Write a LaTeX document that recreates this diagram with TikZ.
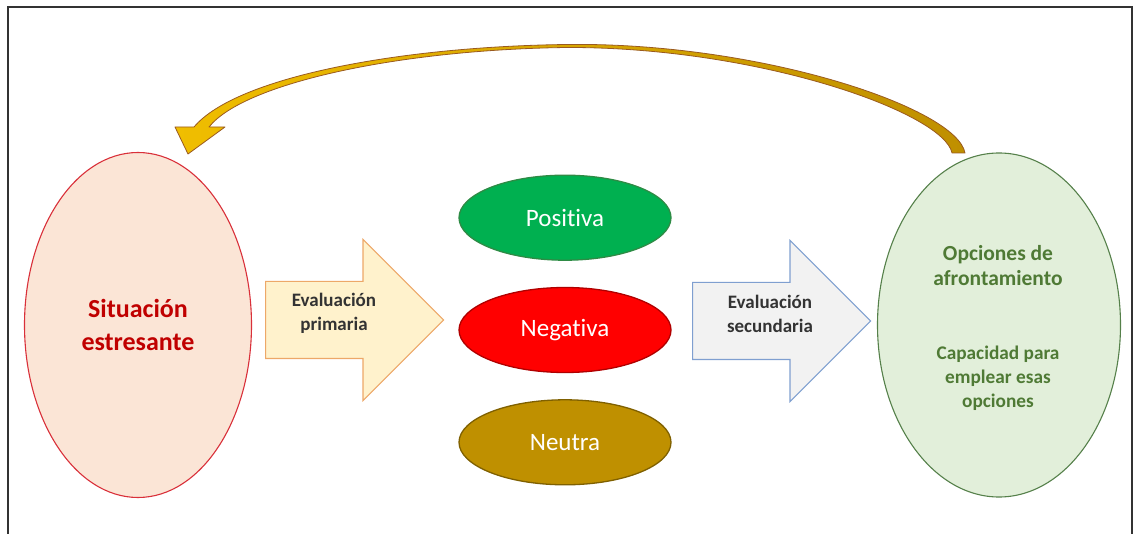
\documentclass[tikz,border=0pt]{standalone}
\usepackage{fontspec}
\setmainfont{Carlito}[Ligatures=NoCommon]
\usepackage{xcolor}
\usetikzlibrary{shapes.geometric, shapes.arrows, positioning}

\definecolor{sitfill}{HTML}{FBE5D6}
\definecolor{sitline}{HTML}{D9303A}
\definecolor{sittext}{HTML}{C00000}
\definecolor{optfill}{HTML}{E2EFDA}
\definecolor{optline}{HTML}{55804A}
\definecolor{opttext}{HTML}{4F7A35}
\definecolor{posfill}{HTML}{00B050}
\definecolor{posline}{HTML}{2E8B45}
\definecolor{negfill}{HTML}{FF0000}
\definecolor{negline}{HTML}{B00000}
\definecolor{neufill}{HTML}{BF9000}
\definecolor{neuline}{HTML}{7F6000}
\definecolor{primfill}{HTML}{FFF2CC}
\definecolor{primline}{HTML}{EDA868}
\definecolor{secfill}{HTML}{F2F2F2}
\definecolor{secline}{HTML}{7F9FD0}
\definecolor{loopgold}{HTML}{F0BE00}
\definecolor{loopdark}{HTML}{BF8F00}
\definecolor{loopline}{HTML}{9A5A20}

\begin{document}
\begin{tikzpicture}[
    x=1pt, y=-1pt,
    node distance=26pt,
    oval/.style={ellipse, draw, line width=1.1pt, inner sep=0pt, align=center},
    mood/.style={ellipse, draw, line width=1.3pt, minimum width=212pt, minimum height=85pt, inner sep=0pt, text=white, font=\fontsize{25}{30}\selectfont},
    bigarrow/.style={single arrow, draw, line width=1.1pt, minimum height=178pt, minimum width=160pt, single arrow head extend=42pt, inner xsep=0pt, inner ysep=38pt, anchor=tail},
    evtext/.style={font=\bfseries\fontsize{19}{24}\selectfont, align=center, text=black!80}
]
\useasboundingbox (0,0) rectangle (1135,534);

% frame
\draw[line width=1.3pt, black!80] (8,545) -- (8,7) -- (1132,7) -- (1132,545);

% main ovals
\node[oval, fill=sitfill, draw=sitline, minimum width=227pt, minimum height=345pt,
      text=sittext, font=\bfseries\fontsize{26}{33}\selectfont] (sit) at (138,325) {Situación\\estresante};
\node[oval, fill=optfill, draw=optline, minimum width=243pt, minimum height=344pt] (opc) at (999,325) {};
\node[text=opttext, font=\bfseries\fontsize{21.5}{25}\selectfont, align=center] (opcT) at (998,266) {Opciones de\\afrontamiento};
\node[text=opttext, font=\bfseries\fontsize{19.3}{24}\selectfont, align=center] (opcS) at (998,378) {Capacidad para\\emplear esas\\opciones};

% appraisal results
\node[mood, fill=negfill, draw=negline] (neg) at (565,330) {Negativa};
\node[mood, fill=posfill, draw=posline, above=of neg] (pos) {Positiva};
\node[mood, fill=neufill, draw=neuline, below=of neg] (neu) {Neutra};

% block arrows
\node[bigarrow, fill=primfill, draw=primline] (prim) at (265,320) {};
\node[evtext] (primT) at (334,313) {Evaluación\\primaria};
\node[bigarrow, fill=secfill, draw=secline] (sec) at (692,321) {};
\node[evtext] (secT) at (770,314) {Evaluación\\secundaria};

% loop back arrow
\shadedraw[left color=loopgold, right color=loopdark, draw=loopline, line width=0.8pt, line join=round]
  (188,154) -- (175,127) -- (194,127)
  .. controls (236,77) and (400,46.5) .. (567,44.5)
  .. controls (760,42) and (957,108) .. (965,153)
  -- (952,153)
  .. controls (944,113) and (760,47) .. (567,47.5)
  .. controls (400,49.5) and (244,83) .. (209,127)
  -- (225,127) -- cycle;

\end{tikzpicture}
\end{document}
